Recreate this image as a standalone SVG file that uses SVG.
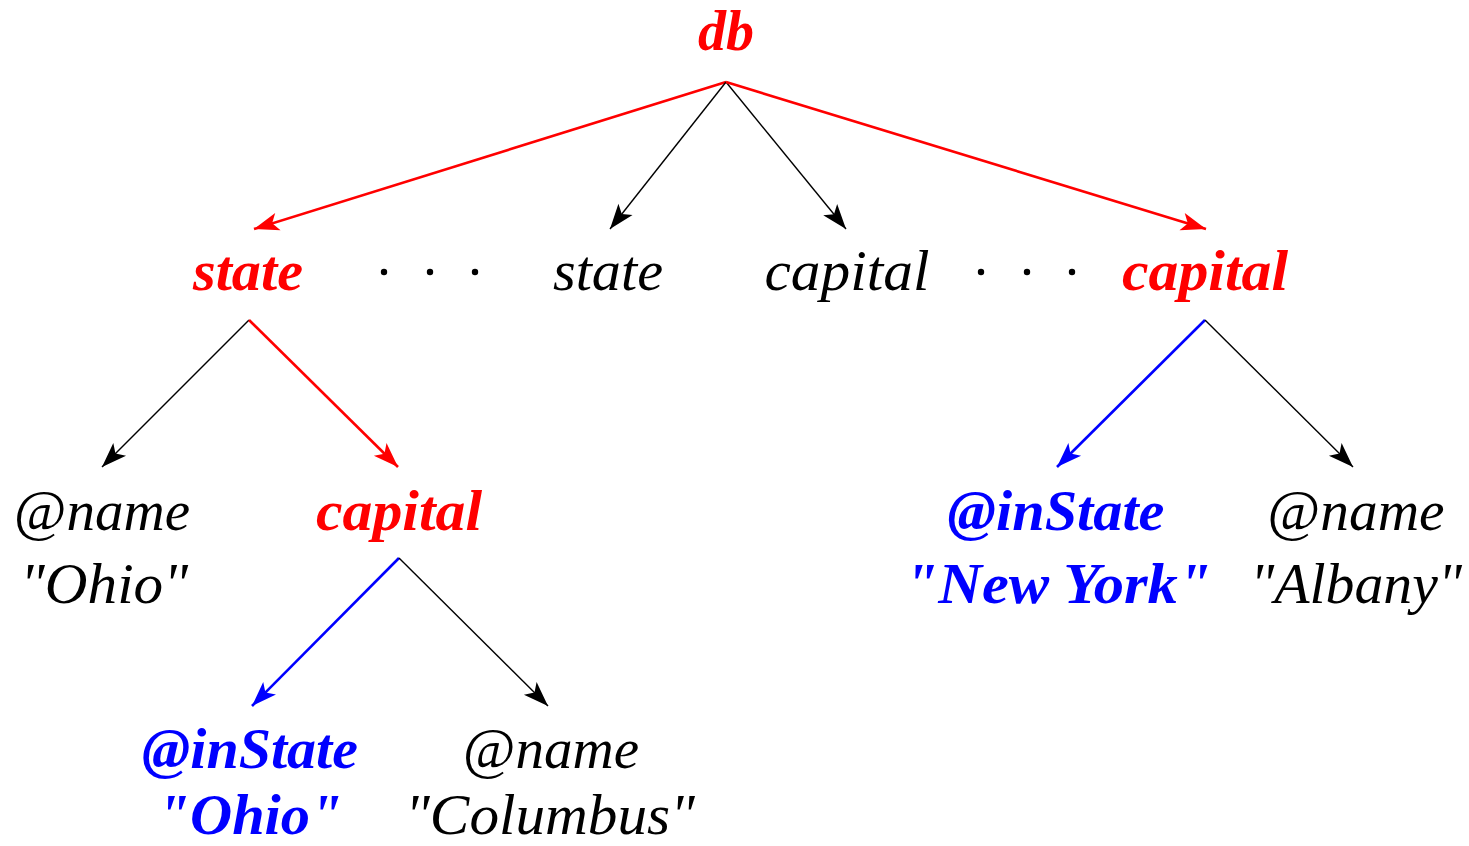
<svg xmlns="http://www.w3.org/2000/svg" width="1469" height="846" viewBox="0 0 1469 846">
  <style>
    text { font-family: "Liberation Serif", "Times New Roman", serif; font-size: 56px; text-anchor: middle; }
    .it { font-style: italic; }
    .bi { font-style: italic; font-weight: bold; }
    .up { font-style: normal; font-weight: normal; }
    .red { fill: #ff0000; }
    .blue { fill: #0000ff; }
    .blk { fill: #000000; }
    .e-red { stroke: #ff0000; stroke-width: 2.6; fill: none; marker-end: url(#ah-red); }
    .e-blk { stroke: #000000; stroke-width: 1.4; fill: none; marker-end: url(#ah-blk); }
    .e-blue { stroke: #0000ff; stroke-width: 2.6; fill: none; marker-end: url(#ah-blue); }
  </style>
  <defs>
    <marker id="ah-red" markerUnits="userSpaceOnUse" viewBox="-26 -10 28 20" refX="0" refY="0" markerWidth="28" markerHeight="20" orient="auto">
      <path d="M0,0 L-25,-9 L-19,0 L-25,9 Z" fill="#ff0000"/>
    </marker>
    <marker id="ah-blk" markerUnits="userSpaceOnUse" viewBox="-26 -10 28 20" refX="0" refY="0" markerWidth="28" markerHeight="20" orient="auto">
      <path d="M0,0 L-25,-9 L-19,0 L-25,9 Z" fill="#000000"/>
    </marker>
    <marker id="ah-blue" markerUnits="userSpaceOnUse" viewBox="-26 -10 28 20" refX="0" refY="0" markerWidth="28" markerHeight="20" orient="auto">
      <path d="M0,0 L-25,-9 L-19,0 L-25,9 Z" fill="#0000ff"/>
    </marker>
  </defs>

  <rect width="1469" height="846" fill="#ffffff"/>

  <!-- edges of the tree -->
  <g id="connectors">
    <line class="e-red" x1="726" y1="82" x2="254" y2="229"/>
    <line class="e-blk" x1="726" y1="82" x2="610" y2="229"/>
    <line class="e-blk" x1="726" y1="82" x2="846" y2="229"/>
    <line class="e-red" x1="726" y1="82" x2="1206" y2="229"/>

    <line class="e-blk" x1="249" y1="320" x2="102" y2="467"/>
    <line class="e-red" x1="249" y1="320" x2="398" y2="467"/>

    <line class="e-blue" x1="399" y1="558" x2="252" y2="706"/>
    <line class="e-blk" x1="399" y1="558" x2="548" y2="706"/>

    <line class="e-blue" x1="1205" y1="320" x2="1057" y2="467"/>
    <line class="e-blk" x1="1205" y1="320" x2="1353" y2="467"/>
  </g>

  <!-- root -->
  <g id="db">
    <text class="bi red" x="726" y="50">db</text>
  </g>

  <!-- children of db -->
  <g id="state-1">
    <text class="bi red" x="248" y="290" textLength="110" lengthAdjust="spacingAndGlyphs">state</text>
  </g>
  <g id="dots-1" fill="#000000">
    <circle cx="384" cy="272" r="3.2"/>
    <circle cx="430" cy="272" r="3.2"/>
    <circle cx="475" cy="272" r="3.2"/>
  </g>
  <g id="state-2">
    <text class="it blk" x="608" y="290" textLength="110" lengthAdjust="spacingAndGlyphs">state</text>
  </g>
  <g id="capital-2">
    <text class="it blk" x="847" y="290" textLength="165" lengthAdjust="spacingAndGlyphs">capital</text>
  </g>
  <g id="dots-2" fill="#000000">
    <circle cx="981" cy="272" r="3.2"/>
    <circle cx="1027" cy="272" r="3.2"/>
    <circle cx="1072" cy="272" r="3.2"/>
  </g>
  <g id="capital-n">
    <text class="bi red" x="1205" y="290" textLength="166" lengthAdjust="spacingAndGlyphs">capital</text>
  </g>

  <!-- children of the first state -->
  <g id="state-name">
    <text class="it blk" x="102" y="530" textLength="176" lengthAdjust="spacingAndGlyphs"><tspan class="up">@</tspan>name</text>
    <text class="it blk" x="104" y="603" textLength="168" lengthAdjust="spacingAndGlyphs">"Ohio"</text>
  </g>
  <g id="capital-1">
    <text class="bi red" x="399" y="530" textLength="166" lengthAdjust="spacingAndGlyphs">capital</text>
  </g>

  <!-- attributes of the nested capital -->
  <g id="capital-1-instate">
    <text class="bi blue" x="250" y="768" textLength="216" lengthAdjust="spacingAndGlyphs">@inState</text>
    <text class="bi blue" x="250" y="834" textLength="185" lengthAdjust="spacingAndGlyphs">"Ohio"</text>
  </g>
  <g id="capital-1-name">
    <text class="it blk" x="551" y="768" textLength="176" lengthAdjust="spacingAndGlyphs"><tspan class="up">@</tspan>name</text>
    <text class="it blk" x="550" y="834" textLength="290" lengthAdjust="spacingAndGlyphs">"Columbus"</text>
  </g>

  <!-- attributes of the last capital -->
  <g id="capital-n-instate">
    <text class="bi blue" x="1056" y="530" textLength="217" lengthAdjust="spacingAndGlyphs">@inState</text>
    <text class="bi blue" x="1058" y="603" textLength="307" lengthAdjust="spacingAndGlyphs">"New York"</text>
  </g>
  <g id="capital-n-name">
    <text class="it blk" x="1356" y="530" textLength="177" lengthAdjust="spacingAndGlyphs"><tspan class="up">@</tspan>name</text>
    <text class="it blk" x="1356" y="603" textLength="212" lengthAdjust="spacingAndGlyphs">"Albany"</text>
  </g>
</svg>
